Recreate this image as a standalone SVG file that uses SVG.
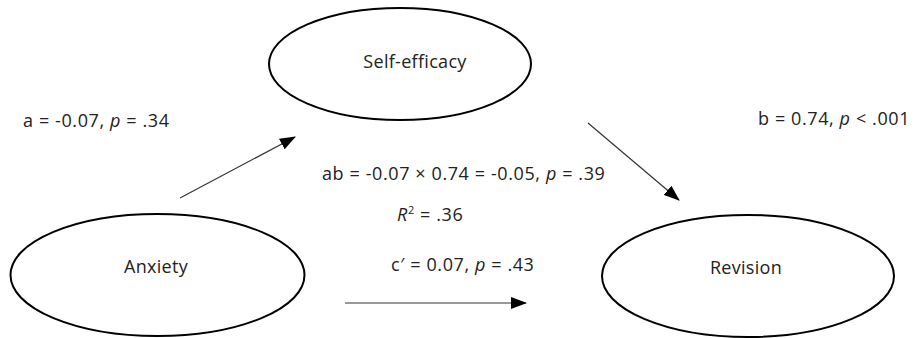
<svg xmlns="http://www.w3.org/2000/svg" width="914" height="338" viewBox="0 0 914 338">
<style>
.node{fill:#fff;stroke:#000;stroke-width:2}
.t{font-family:"Open Sans","Liberation Sans",sans-serif;font-size:18px;fill:#222;letter-spacing:0.6px}
.n{font-family:"Open Sans","Liberation Sans",sans-serif;font-size:18px;fill:#222;text-anchor:middle;letter-spacing:0.3px}
.c{stroke:#333;stroke-width:1.2;fill:none;marker-end:url(#ah)}
</style>
<defs>
<marker id="ah" markerWidth="16" markerHeight="12" refX="15" refY="6" orient="auto" markerUnits="userSpaceOnUse">
<path d="M0,0 L16,6 L0,12 Z" fill="#000"/>
</marker>
</defs>
<rect width="914" height="338" fill="#fff"/>
<g id="self-efficacy">
<ellipse class="node" cx="400" cy="64" rx="131" ry="56"/>
<text class="n" x="415" y="68">Self-efficacy</text>
</g>
<g id="anxiety">
<ellipse class="node" cx="157.5" cy="275" rx="147" ry="61"/>
<text class="n" x="156" y="273">Anxiety</text>
</g>
<g id="revision">
<ellipse class="node" cx="748" cy="276" rx="146" ry="61"/>
<text class="n" x="746" y="274">Revision</text>
</g>
<g id="connectors">
<line class="c" x1="180" y1="198" x2="295" y2="137"/>
<line class="c" x1="588" y1="123" x2="679" y2="200"/>
<line class="c" x1="345" y1="303" x2="526" y2="303"/>
</g>
<g id="labels">
<text class="t" x="23" y="127">a = -0.07, <tspan font-style="italic">p</tspan> = .34</text>
<text class="t" x="758" y="125">b = 0.74, <tspan font-style="italic">p</tspan> &lt; .001</text>
<text class="t" x="322" y="180">ab = -0.07 × 0.74 = -0.05, <tspan font-style="italic">p</tspan> = .39</text>
<text class="t" x="397" y="221"><tspan font-style="italic">R</tspan><tspan font-size="11" dy="-7">2</tspan><tspan dy="7"> = .36</tspan></text>
<text class="t" x="391" y="271">c′ = 0.07, <tspan font-style="italic">p</tspan> = .43</text>
</g>
</svg>
